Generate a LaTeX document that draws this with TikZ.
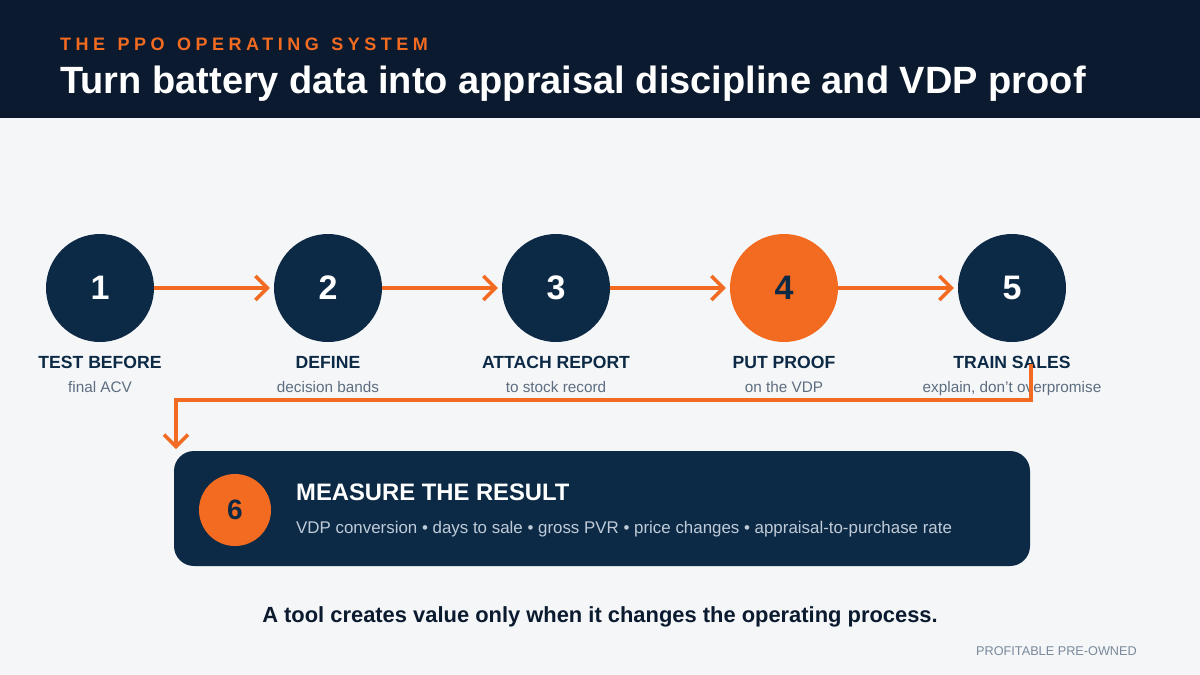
\documentclass[tikz,border=0pt]{standalone}
\usepackage{fontspec}
\setmainfont{Liberation Sans}
\usetikzlibrary{arrows.meta}
\definecolor{hdr}{HTML}{0B1A2E}
\definecolor{navy}{HTML}{0C2A45}
\definecolor{org}{HTML}{F26B21}
\definecolor{bg}{HTML}{F4F6F8}
\definecolor{sub}{HTML}{5E6E80}
\definecolor{lite}{HTML}{BFCBD8}
\definecolor{foot}{HTML}{7A8A9C}
\tikzset{
  stepcirc/.style={circle, fill=navy, minimum size=108pt, inner sep=0pt, text=white, font=\bfseries\fontsize{34}{34}\selectfont},
  steplbl/.style={anchor=base, text=navy, font=\bfseries\fontsize{17.6}{17.6}\selectfont},
  stepsub/.style={anchor=base, text=sub, font=\fontsize{15.3}{15.3}\selectfont},
  flow/.style={draw=org, line width=3.5pt, -{Straight Barb[length=12pt,width=24pt,line width=3.5pt]}},
}
\begin{document}
\begin{tikzpicture}[x=1pt,y=-1pt]
\useasboundingbox (0,0) rectangle (1200,675);
\fill[bg] (0,0) rectangle (1200,675);
\fill[hdr] (0,0) rectangle (1200,118);
\node[anchor=base west, inner sep=0pt, text=org, font=\bfseries\fontsize{18}{18}\selectfont] (kicker) at (60,50) {\addfontfeature{LetterSpace=25}THE\hspace{3pt} PPO\hspace{3pt} OPERATING\hspace{3pt} SYSTEM};
\node[anchor=base west, inner sep=0pt, text=white, font=\bfseries\fontsize{38}{38}\selectfont] (title) at (60,93) {Turn battery data into appraisal discipline and VDP proof};

\node[stepcirc] (c1) at (100,288) {1};
\node[stepcirc] (c2) at (328,288) {2};
\node[stepcirc] (c3) at (556,288) {3};
\node[stepcirc, fill=org, text=navy] (c4) at (784,288) {4};
\node[stepcirc] (c5) at (1012,288) {5};

\draw[flow, shorten >=4pt] (c1) -- (c2);
\draw[flow, shorten >=4pt] (c2) -- (c3);
\draw[flow, shorten >=4pt] (c3) -- (c4);
\draw[flow, shorten >=4pt] (c4) -- (c5);

\node[steplbl] (l1) at (100,368) {TEST BEFORE};
\node[stepsub] (s1) at (100,392) {final ACV};
\node[steplbl] (l2) at (328,368) {DEFINE};
\node[stepsub] (s2) at (328,392) {decision bands};
\node[steplbl] (l3) at (556,368) {ATTACH REPORT};
\node[stepsub] (s3) at (556,392) {to stock record};
\node[steplbl] (l4) at (784,368) {PUT PROOF};
\node[stepsub] (s4) at (784,392) {on the VDP};
\node[steplbl] (l5) at (1012,368) {TRAIN SALES};
\node[stepsub] (s5) at (1012,392) {explain, don’t overpromise};

\node[fill=navy, rounded corners=20pt, minimum width=856pt, minimum height=115pt, inner sep=0pt] (box) at (602,508.5) {};
\node[circle, fill=org, minimum size=72pt, inner sep=0pt, text=navy, font=\bfseries\fontsize{28}{28}\selectfont] (c6) at (235,510) {6};
\node[anchor=base west, inner sep=0pt, text=white, font=\bfseries\fontsize{23.8}{23.8}\selectfont] (mt) at (296,500) {MEASURE THE RESULT};
\node[anchor=base west, inner sep=0pt, text=lite, font=\fontsize{16.9}{16.9}\selectfont] (ms) at (296,533) {VDP conversion • days to sale • gross PVR • price changes • appraisal-to-purchase rate};

\coordinate (start) at (1031,364);
\coordinate (end) at (176,449);
\draw[flow] (start) -- (1031,400) -- (176,400) -- (end);

\node[anchor=base, inner sep=0pt, text=hdr, font=\bfseries\fontsize{21.9}{21.9}\selectfont] (tag) at (600,622) {A tool creates value only when it changes the operating process.};
\node[anchor=base east, inner sep=0pt, text=foot, font=\fontsize{12.7}{12.7}\selectfont] (brand) at (1137,655) {PROFITABLE PRE-OWNED};
\end{tikzpicture}
\end{document}
